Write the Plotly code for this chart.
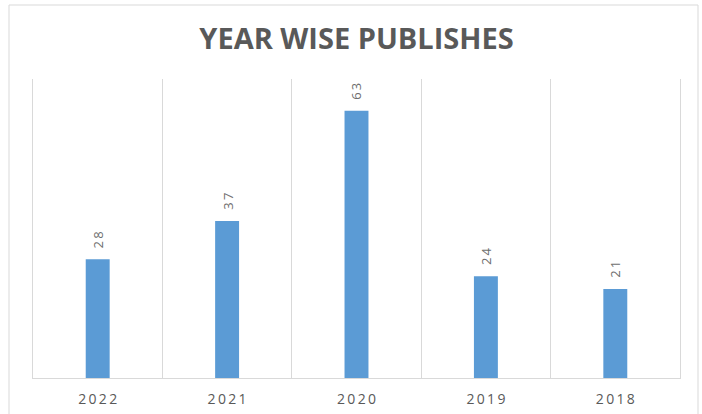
import plotly.graph_objects as go

# Publications per year
years = ["2022", "2021", "2020", "2019", "2018"]
publishes = [28, 37, 63, 24, 21]

THIN = "\u2009"


def spaced(s, gap=THIN):
    """Spread characters out a little for a tracked look."""
    return gap.join(list(s))


BAR = "#5B9BD5"
TEXT = "#595959"
LABEL = "#6E6E6E"
GRID = "#D9D9D9"

fig = go.Figure(
    go.Bar(
        x=years,
        y=publishes,
        marker=dict(color=BAR, line=dict(width=0)),
        hoverinfo="x+y",
    )
)

# Value labels, rotated, sitting a little above each bar
# (placed by category index so the year strings are not read as numbers)
for i, v in enumerate(publishes):
    fig.add_annotation(
        x=i,
        y=v,
        text=spaced(str(v)),
        textangle=-90,
        showarrow=False,
        xanchor="center",
        yanchor="bottom",
        yshift=9,
        font=dict(family="Open Sans", size=13, color=LABEL),
    )

W, H = 702, 414
L, R, T, B = 33, 22, 79, 36
pw, ph = W - L - R, H - T - B


def px_x(p):
    return (p - L) / pw


def px_y(p):
    return (H - B - p) / ph


fig.update_layout(
    width=W,
    height=H,
    margin=dict(l=L, r=R, t=T, b=B, autoexpand=False),
    paper_bgcolor="white",
    plot_bgcolor="white",
    bargap=0.815,
    showlegend=False,
    title=dict(
        text="<b>YEAR WISE PUBLISHES</b>",
        x=0.5,
        xref="paper",
        xanchor="center",
        y=1 - 39 / H,
        yanchor="middle",
        font=dict(family="Open Sans", size=29, color=TEXT),
    ),
    xaxis=dict(
        type="category",
        range=[-0.5, len(years) - 0.5],
        tickson="boundaries",
        tickvals=years,
        ticktext=[spaced(y) for y in years],
        tickangle=0,
        showgrid=True,
        gridcolor=GRID,
        gridwidth=1,
        showline=True,
        linecolor=GRID,
        linewidth=1,
        ticks="",
        ticklabelstandoff=8,
        tickfont=dict(family="Open Sans", size=14, color=TEXT),
        fixedrange=True,
    ),
    yaxis=dict(
        range=[0, 70.5],
        showgrid=False,
        zeroline=False,
        showticklabels=False,
        showline=True,
        linecolor=GRID,
        linewidth=1,
        mirror=True,
        fixedrange=True,
    ),
    shapes=[
        dict(
            type="rect",
            xref="paper",
            yref="paper",
            x0=px_x(9),
            x1=px_x(698),
            y0=px_y(430),
            y1=px_y(5),
            line=dict(color=GRID, width=1),
            fillcolor="rgba(0,0,0,0)",
            layer="below",
        )
    ],
)

fig.write_html("out.html")
